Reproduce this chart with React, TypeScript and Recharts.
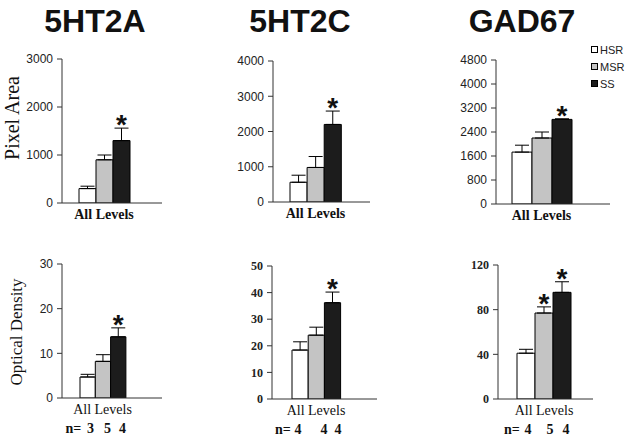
import React from "react";
import { BarChart, Bar, XAxis, YAxis, ErrorBar, LabelList, Label, Legend } from "recharts";

// ---------- data ----------
const groups = ["HSR", "MSR", "SS"];
const category = "All Levels";
const titles = ["5HT2A", "5HT2C", "GAD67"];
const yLabelTop = "Pixel Area";
const yLabelBottom = "Optical Density";

const pixel5HT2A = [300, 900, 1300];
const pixel5HT2AErr = [50, 100, 260];
const pixel5HT2C = [560, 980, 2200];
const pixel5HT2CErr = [200, 310, 380];
const pixelGAD67 = [1730, 2200, 2820];
const pixelGAD67Err = [230, 200, 20];

const od5HT2A = [4.7, 8.2, 13.7];
const od5HT2AErr = [0.6, 1.5, 2.0];
const od5HT2C = [18.4, 24, 36.2];
const od5HT2CErr = [3.1, 3.0, 4.0];
const odGAD67 = [41, 77, 95.5];
const odGAD67Err = [3.5, 5.5, 9.5];

const sigPixel5HT2A = [false, false, true];
const sigPixel5HT2C = [false, false, true];
const sigPixelGAD67 = [false, false, true];
const sigOd5HT2A = [false, false, true];
const sigOd5HT2C = [false, false, true];
const sigOdGAD67 = [false, true, true];

const n5HT2A = [3, 5, 4];
const n5HT2C = [4, 4, 4];
const nGAD67 = [4, 5, 4];

const ticksPixel5HT2A = [0, 1000, 2000, 3000];
const ticksPixel5HT2C = [0, 1000, 2000, 3000, 4000];
const ticksPixelGAD67 = [0, 800, 1600, 2400, 3200, 4000, 4800];
const ticksOd5HT2A = [0, 10, 20, 30];
const ticksOd5HT2C = [0, 10, 20, 30, 40, 50];
const ticksOdGAD67 = [0, 40, 80, 120];

// ---------- styles ----------
const fills = ["#ffffff", "#c4c4c4", "#1c1c1c"];
const SANS = "'Liberation Sans', Arial, sans-serif";
const SERIF = "'Liberation Serif', 'Times New Roman', serif";
const AXIS = "#333";

type PanelProps = {
  means: number[];
  errs: number[];
  sig: boolean[];
  ticks: number[];
  axisX: number;
  top: number;
  bottom: number;
  right: number;
  padL: number;
  padR: number;
  barSize: number;
  serifTicks?: boolean;
  xBold?: boolean;
  yLabel?: { text: string; dx: number; dy: number; size: number };
  nValues?: number[];
  nStart?: number;
  nOffsets?: number[];
  legend?: boolean;
};

function Panel(p: PanelProps) {
  const row: any = { name: category };
  groups.forEach((g, i) => {
    row[g] = p.means[i];
    row[g + "Err"] = [0, p.errs[i]];
    row[g + "Sig"] = p.sig[i] ? 1 : null;
  });
  const data = [row];
  const yW = 60;
  const mTop = 20;
  const xH = 45;
  const mRight = 10;
  const left = p.axisX - yW;
  const chartTop = p.top - mTop;
  const width = p.right - p.axisX + yW + mRight;
  const height = p.bottom - p.top + mTop + xH;
  const max = p.ticks[p.ticks.length - 1];

  const XTick = (props: any) => {
    const { x, y, payload } = props;
    return (
      <g>
        <text
          x={x}
          y={y + 16}
          textAnchor="middle"
          fontFamily={SERIF}
          fontWeight={p.xBold ? "bold" : "normal"}
          fontSize={14}
          fill="#111"
        >
          {payload.value}
        </text>
        {p.nValues && (
          <g fontFamily={SERIF} fontWeight="bold" fontSize={14} fill="#111">
            <text x={x + (p.nStart || 0)} y={y + 35} textAnchor="start">
              n=
            </text>
            {p.nValues.map((v, i) => (
              <text key={i} x={x + (p.nOffsets ? p.nOffsets[i] : 0)} y={y + 35} textAnchor="middle">
                {v}
              </text>
            ))}
          </g>
        )}
      </g>
    );
  };

  const starContent = (i: number) => (props: any) => {
    const vb = props.viewBox || props;
    if (!props.value || !vb || !vb.height) return null;
    const errPx = (p.errs[i] * vb.height) / p.means[i];
    const cx = vb.x + vb.width / 2;
    const errTop = vb.y - errPx;
    return (
      <text x={cx} y={errTop + 6} textAnchor="middle" fontFamily={SANS} fontWeight="bold" fontSize={28} fill="#111">
        *
      </text>
    );
  };

  const yLabelContent = (props: any) => {
    const vb = props.viewBox;
    if (!p.yLabel || !vb) return null;
    const lx = vb.x + vb.width + p.yLabel.dx;
    const ly = vb.y + vb.height / 2 + p.yLabel.dy;
    return (
      <text
        transform={`translate(${lx},${ly}) rotate(-90)`}
        textAnchor="middle"
        fontFamily={SERIF}
        fontSize={p.yLabel.size}
        fill="#111"
      >
        {p.yLabel.text}
      </text>
    );
  };

  const legendContent = (props: any) => {
    const payload = props.payload || [];
    return (
      <div style={{ fontFamily: SANS, fontSize: 11, color: "#222" }}>
        {payload.map((e: any, i: number) => (
          <div key={i} style={{ height: 17, display: "flex", alignItems: "center" }}>
            <svg width={7} height={7} style={{ marginRight: 2 }}>
              <rect x={0.5} y={0.5} width={6} height={6} fill={e.color} stroke="#000" strokeWidth={1} />
            </svg>
            <span>{e.value}</span>
          </div>
        ))}
      </div>
    );
  };

  return (
    <div style={{ position: "absolute", left, top: chartTop }}>
      <BarChart
        width={width}
        height={height}
        data={data}
        margin={{ top: mTop, right: mRight, bottom: 0, left: 0 }}
        barCategoryGap={0}
        barGap={0}
      >
        <XAxis
          dataKey="name"
          height={xH}
          padding={{ left: p.padL, right: p.padR }}
          tickLine={false}
          tickSize={0}
          tickMargin={0}
          axisLine={{ stroke: AXIS }}
          tick={<XTick />}
          interval={0}
        />
        <YAxis
          width={yW}
          domain={[0, max]}
          ticks={p.ticks}
          interval={0}
          allowDataOverflow
          tickSize={5}
          tickMargin={4}
          tickLine={{ stroke: AXIS }}
          axisLine={{ stroke: AXIS }}
          tick={{
            fontFamily: p.serifTicks ? SERIF : SANS,
            fontWeight: p.serifTicks ? "bold" : "normal",
            fontSize: 12,
            fill: "#222",
          }}
        >
          {p.yLabel && <Label content={yLabelContent} />}
        </YAxis>
        {p.legend && (
          <Legend
            layout="vertical"
            align="center"
            verticalAlign="middle"
            content={legendContent}
            wrapperStyle={{ left: 591 - left, top: 41 - chartTop, width: 40, height: 51 }}
          />
        )}
        {groups.map((g, i) => (
          <Bar
            key={g}
            dataKey={g}
            name={g}
            fill={fills[i]}
            stroke="#000"
            strokeWidth={1}
            barSize={p.barSize}
            isAnimationActive={false}
          >
            <ErrorBar dataKey={g + "Err"} width={7} stroke="#000" strokeWidth={1} direction="y" />
            <LabelList dataKey={g + "Sig"} content={starContent(i)} />
          </Bar>
        ))}
      </BarChart>
    </div>
  );
}

export default function App() {
  const titleX = [95, 300, 522];
  return (
    <div style={{ position: "absolute", left: 0, top: 0, width: 628, height: 440, background: "#fff", overflow: "hidden" }}>
      <svg width={628} height={440} style={{ position: "absolute", left: 0, top: 0 }}>
        {titles.map((t, i) => (
          <text key={t} x={titleX[i]} y={32} textAnchor="middle" fontFamily={SANS} fontWeight="bold" fontSize={32} fill="#111">
            {t}
          </text>
        ))}
      </svg>
      <Panel
        means={pixel5HT2A}
        errs={pixel5HT2AErr}
        sig={sigPixel5HT2A}
        ticks={ticksPixel5HT2A}
        axisX={62}
        top={59}
        bottom={203}
        right={162}
        padL={16}
        padR={32}
        barSize={17}
        xBold
        yLabel={{ text: yLabelTop, dx: -43, dy: -13, size: 20 }}
      />
      <Panel
        means={pixel5HT2C}
        errs={pixel5HT2CErr}
        sig={sigPixel5HT2C}
        ticks={ticksPixel5HT2C}
        axisX={273}
        top={61}
        bottom={202}
        right={370}
        padL={14}
        padR={26}
        barSize={19}
        xBold
      />
      <Panel
        means={pixelGAD67}
        errs={pixelGAD67Err}
        sig={sigPixelGAD67}
        ticks={ticksPixelGAD67}
        axisX={496}
        top={60}
        bottom={204}
        right={610}
        padL={15}
        padR={38}
        barSize={20}
        xBold
        legend
      />
      <Panel
        means={od5HT2A}
        errs={od5HT2AErr}
        sig={sigOd5HT2A}
        ticks={ticksOd5HT2A}
        axisX={62}
        top={264}
        bottom={398}
        right={162}
        padL={15}
        padR={34}
        barSize={17}
        yLabel={{ text: yLabelBottom, dx: -40, dy: 1, size: 17 }}
        nValues={n5HT2A}
        nStart={-37}
        nOffsets={[-12, 5, 20]}
      />
      <Panel
        means={od5HT2C}
        errs={od5HT2CErr}
        sig={sigOd5HT2C}
        ticks={ticksOd5HT2C}
        axisX={272}
        top={266}
        bottom={399}
        right={377}
        padL={17}
        padR={34}
        barSize={18}
        serifTicks
        nValues={n5HT2C}
        nStart={-41}
        nOffsets={[-18, 8, 22]}
      />
      <Panel
        means={odGAD67}
        errs={odGAD67Err}
        sig={sigOdGAD67}
        ticks={ticksOdGAD67}
        axisX={498}
        top={265}
        bottom={399}
        right={593}
        padL={16}
        padR={19}
        barSize={20}
        serifTicks
        nValues={nGAD67}
        nStart={-40}
        nOffsets={[-16, 6, 22]}
      />
    </div>
  );
}
